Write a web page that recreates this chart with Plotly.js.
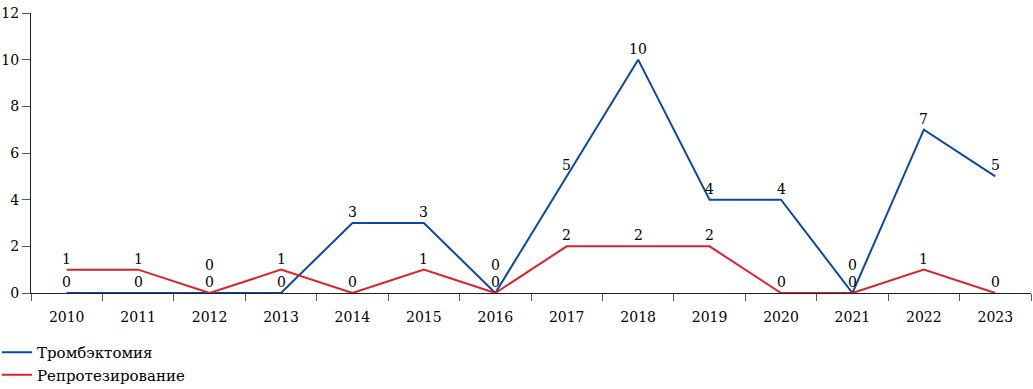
<!DOCTYPE html>
<html>
<head>
<meta charset="utf-8">
<script src="https://cdn.plot.ly/plotly-3.0.1.min.js"></script>
<style>html,body{margin:0;padding:0;background:#fff;}</style>
</head>
<body>
<div id="chart" style="width:1033px;height:389px;"></div>
<script>
const years = ["2010","2011","2012","2013","2014","2015","2016","2017","2018","2019","2020","2021","2022","2023"];
const thrombectomy = [0,0,0,0,3,3,0,5,10,4,4,0,7,5];
const reprosthesis = [1,1,0,1,0,1,0,2,2,2,0,0,1,0];
const yTicks = [0,2,4,6,8,10,12];
const seriesNames = ["Тромбэктомия","Репротезирование"];

const FONT = "DejaVu Serif";
const BLUE = "#0d46a8";
const RED = "#d8232f";

const traces = [
  {x: years, y: thrombectomy, name: seriesNames[0], type: "scatter", mode: "lines",
   line: {color: BLUE, width: 2}},
  {x: years, y: reprosthesis, name: seriesNames[1], type: "scatter", mode: "lines",
   line: {color: RED, width: 2}}
];

const annotations = [];
years.forEach((yr, i) => {
  const b = thrombectomy[i], r = reprosthesis[i];
  annotations.push({x: i, y: b, xref: "x", yref: "y", text: String(b), showarrow: false,
    yshift: 11, font: {family: FONT, size: 14, color: "#000"}});
  annotations.push({x: i, y: r, xref: "x", yref: "y", text: String(r), showarrow: false,
    yshift: (r === b) ? 28 : 11, font: {family: FONT, size: 14, color: "#000"}});
});

const layout = {
  width: 1033, height: 389,
  margin: {l: 31, r: 2, t: 13, b: 96, autoexpand: false},
  paper_bgcolor: "#fff", plot_bgcolor: "#fff",
  font: {family: FONT, size: 14, color: "#000"},
  showlegend: true,
  legend: {x: -0.034, xref: "paper", y: -0.35, yref: "paper", xanchor: "left", yanchor: "bottom",
    orientation: "v", font: {family: FONT, size: 15, color: "#000"}, bgcolor: "rgba(0,0,0,0)",
    tracegroupgap: 0, itemwidth: 30},
  xaxis: {type: "category", range: [-0.5, 13.5], showgrid: false, zeroline: false,
    showline: true, linecolor: "#222", linewidth: 1,
    ticks: "outside", tickson: "boundaries", ticklen: 7, tickcolor: "#555", tickwidth: 1,
    ticklabelstandoff: 11,
    tickfont: {family: FONT, size: 14, color: "#000"}},
  yaxis: {range: [0, 12], tickvals: yTicks, showgrid: false, zeroline: false,
    showline: true, linecolor: "#222", linewidth: 1,
    ticks: "outside", ticklen: 8, tickcolor: "#555", tickwidth: 1,
    tickfont: {family: FONT, size: 14, color: "#000"}},
  annotations: annotations
};

Plotly.newPlot("chart", traces, layout, {displayModeBar: false, staticPlot: true});
</script>
</body>
</html>
